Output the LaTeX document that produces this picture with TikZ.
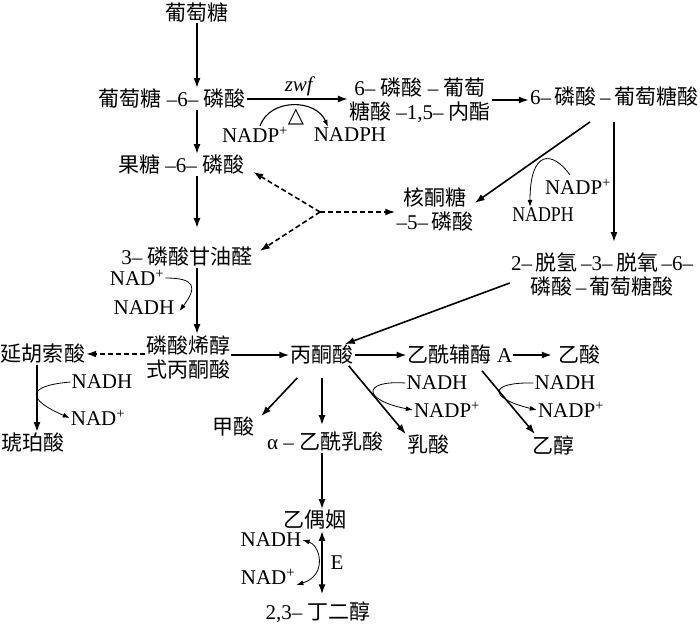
\documentclass[tikz,border=0pt]{standalone}
\usepackage{fontspec}
\setmainfont{Liberation Serif}
\newfontfamily\cjk{Noto Sans CJK SC}
\newfontfamily\symf{DejaVu Sans}
\newcommand{\zh}[1]{{\cjk\fontsize{21}{24}\selectfont #1}}
\usepackage{tikz}
\usetikzlibrary{arrows.meta}

\tikzset{
  chem/.style={inner sep=1pt, align=center, font=\fontsize{21}{24}\selectfont},
  cofac/.style={inner sep=1pt, font=\fontsize{21}{24}\selectfont},
  mainarrow/.style={line width=1.6pt, -{Latex[length=10pt,width=7pt]}},
  sidearrow/.style={line width=0.8pt, -{Latex[length=7pt,width=5pt]}},
  dasharrow/.style={line width=1.6pt, dash pattern=on 5pt off 3pt, -{Latex[length=10pt,width=7pt]}},
}

\begin{document}
\begin{tikzpicture}[x=1pt,y=-1pt]
	\useasboundingbox (0,0) rectangle (700,628);
	% compounds
	\node[chem] (glc) at (197,12) {\zh{葡萄糖}};
	\node[chem] (g6p) at (172,99) {\zh{葡萄糖} –6– \zh{磷酸}};
	\node[chem] (f6p) at (181,165) {\zh{果糖} –6– \zh{磷酸}};
	\node[chem] (pgl) at (420,100) {6– \zh{磷酸} – \zh{葡萄}\\\zh{糖酸} –1,5– \zh{内酯}};
	\node[chem] (pgc) at (614,97) {6–\,\zh{磷酸}\,–\,\zh{葡萄糖酸}};
	\node[chem] (ru5p) at (435,210) {\zh{核酮糖}\\–5–\,\zh{磷酸}};
	\node[chem] (kdpg) at (602,275) {2–\,\zh{脱氢}\,–3–\,\zh{脱氧}\,–6–\\\zh{磷酸}\,–\,\zh{葡萄糖酸}};
	\node[chem] (gap) at (187,257) {3– \zh{磷酸甘油醛}};
	\node[chem] (pep) at (188,357) {\zh{磷酸烯醇}\\\zh{式丙酮酸}};
	\node[chem] (fum) at (43,354) {\zh{延胡索酸}};
	\node[chem] (suc) at (33,443) {\zh{琥珀酸}};
	\node[chem] (pyr) at (322,355) {\zh{丙酮酸}};
	\node[chem] (acoa) at (460,355) {\zh{乙酰辅酶} A};
	\node[chem] (ace) at (579,355) {\zh{乙酸}};
	\node[chem] (form) at (233,427) {\zh{甲酸}};
	\node[chem] (alac) at (325,442) {α – \zh{乙酰乳酸}};
	\node[chem] (lac) at (428,445) {\zh{乳酸}};
	\node[chem] (etoh) at (553,445) {\zh{乙醇}};
	\node[chem] (acn) at (315,520) {\zh{乙偶姻}};
	\node[chem] (bdo) at (318,612) {2,3– \zh{丁二醇}};
	% cofactors
	\node[cofac] (zwf) at (300,86) {\textit{zwf}};
	\node[cofac] (heat) at (296,117) {\symf △};
	\node[cofac] (nadpa) at (255,135) {NADP\textsuperscript{+}};
	\node[cofac] (nadpha) at (350,135) {NADPH};
	\node[cofac] (nadpb) at (578,187) {NADP\textsuperscript{+}};
	\node[cofac, xscale=0.85] (nadphb) at (543,215) {NADPH};
	\node[cofac] (nada) at (137,278) {NAD\textsuperscript{+}};
	\node[cofac] (nadha) at (144,308) {NADH};
	\node[cofac] (nadhb) at (102,382) {NADH};
	\node[cofac] (nadb) at (98,418) {NAD\textsuperscript{+}};
	\node[cofac] (nadhc) at (437,383) {NADH};
	\node[cofac] (nadpc) at (447,410) {NADP\textsuperscript{+}};
	\node[cofac] (nadhd) at (565,383) {NADH};
	\node[cofac] (nadpd) at (571,410) {NADP\textsuperscript{+}};
	\node[cofac] (nadhe) at (271,540) {NADH};
	\node[cofac] (nade) at (268,577) {NAD\textsuperscript{+}};
	\node[cofac] (enz) at (337,563) {E};
	% main chain
	\draw[mainarrow] (glc.south) -- (glc.south |- g6p.north);
	\draw[mainarrow] (g6p.south -| glc) -- (f6p.north -| glc);
	\draw[mainarrow, shorten >=18pt] (f6p.south -| glc) -- (gap.north -| glc);
	\draw[mainarrow] (gap.south -| glc) -- (pep.north -| glc);
	\draw[sidearrow] (nada.east) .. controls +(30,0) and +(18,-24) .. ([xshift=4pt,yshift=-3pt]nadha.east);
	% pentose phosphate branch
	\draw[mainarrow] (g6p.east) -- (g6p.east -| pgl.west);
	\draw[sidearrow, line width=1.1pt] ([xshift=5pt]nadpa.north) .. controls +(10,-28) and +(-12,-28) .. ([xshift=-22pt]nadpha.north);
	\draw[mainarrow] (pgl.east) -- (pgl.east -| pgc.west);
	\draw[mainarrow] ([xshift=-24pt,yshift=-14pt]pgc.south) -- ([yshift=7pt]ru5p.east);
	\draw[sidearrow] ([xshift=-8pt,yshift=3pt]nadpb.north) .. controls (552,150) and (530,150) .. ([xshift=-13pt]nadphb.north);
	\draw[mainarrow, shorten <=14pt, shorten >=10pt] (pgc.south) -- (pgc.south |- kdpg.north);
	\draw[mainarrow] ([yshift=-8pt]kdpg.west) -- ([xshift=-10pt]pyr.north east);
	% dashed fork
	\coordinate (fork) at (320,212);
	\draw[dasharrow] (fork) -- ([xshift=8pt,yshift=4pt]f6p.south east);
	\draw[dasharrow] (fork) -- ([xshift=6pt,yshift=6pt]gap.east);
	\draw[dasharrow] (fork) -- (fork -| ru5p.west);
	\draw[dasharrow] (pep.west |- fum) -- (fum.east);
	% fumarate
	\draw[mainarrow] ([xshift=-6pt]fum.south) -- ([xshift=-6pt]fum.south |- suc.north);
	\draw[sidearrow] (nadhb.west) .. controls (24,386) and (28,400) .. (nadb.west);
	% pyruvate
	\draw[mainarrow] (pep.east |- pyr) -- (pyr.west);
	\draw[mainarrow] (pyr.east) -- (acoa.west);
	\draw[mainarrow] (acoa.east) -- ([xshift=-5pt]ace.west);
	\draw[mainarrow] ([xshift=22pt,yshift=-5pt]acoa.south) -- ([xshift=-18pt]etoh.north);
	\draw[sidearrow] (nadhd.west) .. controls (488,382) and (488,398) .. (nadpd.west);
	\draw[mainarrow] ([xshift=-6pt]pyr.south east) -- (lac.north west);
	\draw[sidearrow] (nadhc.west) .. controls (362,380) and (362,400) .. (nadpc.west);
	\draw[mainarrow] ([xshift=8pt,yshift=-12pt]pyr.south west) -- ([xshift=6pt]form.north east);
	\draw[mainarrow, shorten <=12pt, shorten >=6pt] (pyr.south) -- (pyr.south |- alac.north);
	\draw[mainarrow] (alac.south -| pyr) -- (acn.north -| pyr);
	\draw[mainarrow, {Latex[length=10pt,width=7pt]}-{Latex[length=10pt,width=7pt]}, shorten >=6pt] (acn.south -| pyr) -- (bdo.north -| pyr);
	\draw[sidearrow, {Latex[length=7pt,width=5pt]}-{Latex[length=7pt,width=5pt]}] (nadhe.east) .. controls (320,545) and (328,575) .. ([yshift=-8pt]nade.east);
\end{tikzpicture}
\end{document}
